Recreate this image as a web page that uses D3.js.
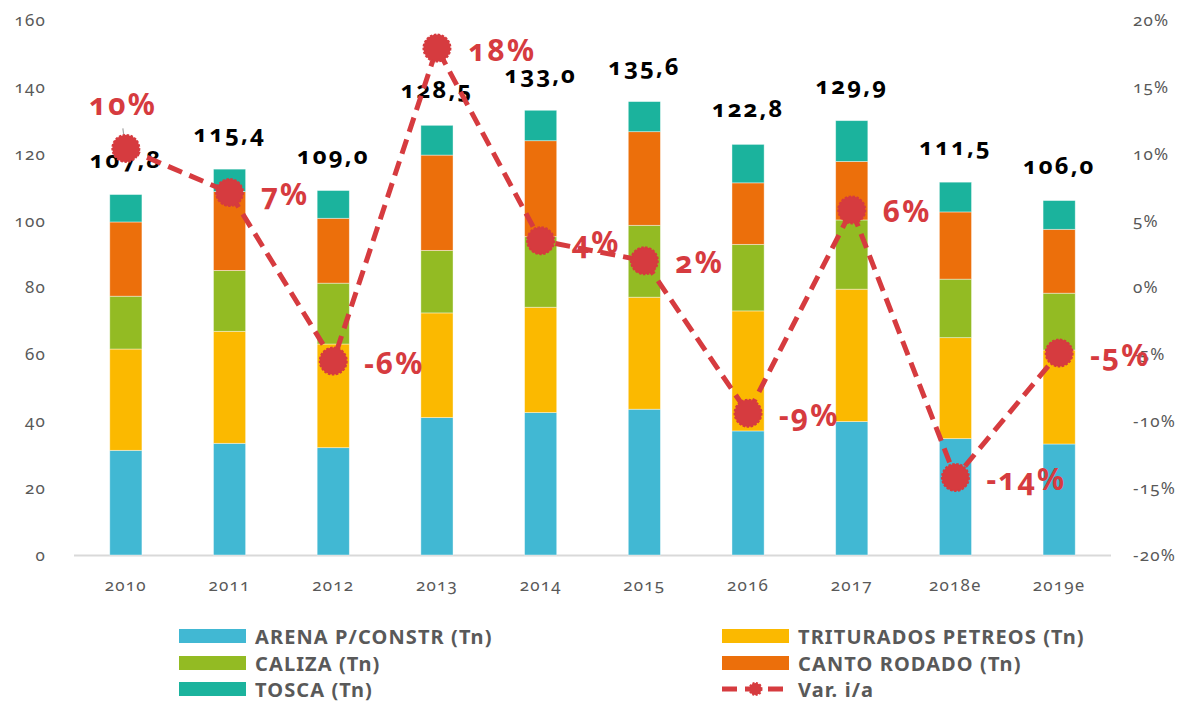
<!DOCTYPE html>
<html><head><meta charset="utf-8">
<script src="https://cdn.jsdelivr.net/npm/d3@7"></script>
<style>
html,body{margin:0;padding:0;background:#fff;}
svg{display:block;font-family:"Noto Sans",sans-serif;font-variant-numeric:oldstyle-nums;}
</style></head>
<body><svg id="c" width="1186" height="703"></svg>
<script>
const years = ["2010","2011","2012","2013","2014","2015","2016","2017","2018e","2019e"];
const arena  = [31.3,33.4,32.1,41.1,42.6,43.6,37.1,39.9,34.8,33.2];
const trit   = [30.3,33.5,31.0,31.3,31.5,33.5,35.9,39.6,30.2,28.1];
const caliza = [15.8,18.2,18.2,18.7,21.1,21.5,19.9,20.7,17.5,17.0];
const canto  = [22.2,23.6,19.4,28.5,28.7,28.0,18.4,17.5,20.1,19.1];
const tosca  = [8.2,6.7,8.3,8.9,9.1,9.0,11.5,12.2,8.9,8.6];
const totals = ["107,8","115,4","109,0","128,5","133,0","135,6","122,8","129,9","111,5","106,0"];
const varia  = [0.104,0.071,-0.055,0.179,0.035,0.020,-0.094,0.058,-0.142,-0.049];
const varLabels = ["10%","7%","-6%","18%","4%","2%","-9%","6%","-14%","-5%"];
const leftTicks = [0,20,40,60,80,100,120,140,160];
const rightTicks = [-0.2,-0.15,-0.1,-0.05,0,0.05,0.1,0.15,0.2];
const seriesNames = ["ARENA P/CONSTR (Tn)","TRITURADOS PETREOS (Tn)","CALIZA (Tn)","CANTO RODADO (Tn)","TOSCA (Tn)"];
const lineName = "Var. i/a";

const colors = ["#41B8D3","#FBB900","#93BB23","#EC6F0B","#1BB39D"];
const red = "#D63B3F";
const gray = "#595959";

const svg = d3.select("#c");
const L = 74, R = 1111, T = 20, B = 555;
const x = d3.scaleBand().domain(years).range([L,R]).paddingInner(0.69).paddingOuter(0.345);
const y = d3.scaleLinear().domain([0,160]).range([B,T]);
const y2 = d3.scaleLinear().domain([-0.2,0.2]).range([B,T]);

const rows = years.map((yr,i)=>({year:yr, s0:arena[i], s1:trit[i], s2:caliza[i], s3:canto[i], s4:tosca[i]}));
const stack = d3.stack().keys(["s0","s1","s2","s3","s4"])(rows);

// axis line
svg.append("line").attr("x1",L).attr("x2",R).attr("y1",B+0.5).attr("y2",B+0.5)
  .attr("stroke","#d9d9d9").attr("stroke-width",2);

// bars
stack.forEach((layer,k)=>{
  svg.append("g").selectAll("rect").data(layer).join("rect")
    .attr("x",d=>x(d.data.year))
    .attr("width",x.bandwidth())
    .attr("y",d=>y(d[1]))
    .attr("height",d=>y(d[0])-y(d[1]))
    .attr("fill",colors[k])
    .attr("stroke","rgba(255,255,255,0.5)").attr("stroke-width",0.8);
});

const tickStyle = sel => sel.attr("fill",gray).style("font-size","17px")
  .style("letter-spacing","1.2px").style("font-family","Noto Sans");

// left axis
const ay = d3.axisLeft(y).tickValues(leftTicks).tickSize(0).tickPadding(0).tickFormat(d3.format("d"));
const gL = svg.append("g").attr("transform","translate(46,0)").call(ay);
gL.select(".domain").remove();
gL.selectAll("text").call(tickStyle);

// right axis
const pct = d => d3.format(".0%")(d).replace("\u2212","-");
const ay2 = d3.axisRight(y2).tickValues(rightTicks).tickSize(0).tickPadding(0).tickFormat(pct);
const gR = svg.append("g").attr("transform","translate(1133,0)").call(ay2);
gR.select(".domain").remove();
gR.selectAll("text").call(tickStyle);

// x axis
const ax = d3.axisBottom(x).tickSize(0).tickPadding(0);
const gX = svg.append("g").attr("transform",`translate(0,${B+24})`).call(ax);
gX.select(".domain").remove();
gX.selectAll("text").call(tickStyle);

// total labels
svg.append("g").selectAll("text").data(rows).join("text")
  .attr("x",(d,i)=>x(d.year)+x.bandwidth()/2)
  .attr("y",(d,i)=>y(arena[i]+trit[i]+caliza[i]+canto[i]+tosca[i]) - 27)
  .attr("text-anchor","middle")
  .attr("fill","#000").style("font-weight","700").style("font-size","24px")
  .style("letter-spacing","2px")
  .text((d,i)=>totals[i]);

// line
const cx = i => x(years[i]) + x.bandwidth()/2;
const line = d3.line().x((d,i)=>cx(i)).y(d=>y2(d));
svg.append("path").datum(varia).attr("d",line)
  .attr("fill","none").attr("stroke",red).attr("stroke-width",5)
  .attr("stroke-dasharray","15,8");

// leader line for first label
svg.append("line").attr("x1",cx(0)-3).attr("y1",y2(varia[0])-20).attr("x2",cx(0)).attr("y2",y2(varia[0])+2)
  .attr("stroke","#a6a6a6").attr("stroke-width",1.2);

svg.append("g").selectAll("circle").data(varia).join("circle")
  .attr("cx",(d,i)=>cx(i)).attr("cy",d=>y2(d)).attr("r",13.5)
  .attr("fill",red).attr("stroke",red).attr("stroke-width",2).attr("stroke-dasharray","2.5,1.5");

// var labels
svg.append("g").selectAll("text").data(varia).join("text")
  .attr("x",(d,i)=> i===0 ? cx(i)-3 : cx(i)+31)
  .attr("y",(d,i)=> i===0 ? y2(d)-45 : y2(d)+1)
  .attr("dominant-baseline","central")
  .attr("text-anchor",(d,i)=> i===0 ? "middle" : "start")
  .attr("fill",red).style("font-weight","700").style("font-size","30px")
  .style("letter-spacing","2px")
  .text((d,i)=>varLabels[i]);

// legend
const legItems = [
  {name:seriesNames[0], c:colors[0], col:0,row:0},
  {name:seriesNames[1], c:colors[1], col:1,row:0},
  {name:seriesNames[2], c:colors[2], col:0,row:1},
  {name:seriesNames[3], c:colors[3], col:1,row:1},
  {name:seriesNames[4], c:colors[4], col:0,row:2},
  {name:lineName, c:red, col:1,row:2, line:true}
];
const colX = [179,722], rowY = [636,663,689];
const lg = svg.append("g");
legItems.forEach(it=>{
  const gx = colX[it.col], gy = rowY[it.row];
  if(it.line){
    lg.append("line").attr("x1",gx).attr("x2",gx+67).attr("y1",gy).attr("y2",gy)
      .attr("stroke",red).attr("stroke-width",5).attr("stroke-dasharray","15,8");
    lg.append("circle").attr("cx",gx+33.5).attr("cy",gy).attr("r",6)
      .attr("fill",red).attr("stroke",red).attr("stroke-width",2).attr("stroke-dasharray","2,1.5");
  } else {
    lg.append("rect").attr("x",gx).attr("y",gy-7).attr("width",67).attr("height",14).attr("fill",it.c);
  }
  lg.append("text").attr("x",gx+76).attr("y",gy).attr("dominant-baseline","central")
    .attr("fill",gray).style("font-weight","700").style("font-size","20px")
    .style("letter-spacing","1.1px")
    .style("font-variant-numeric","normal")
    .text(it.name);
});
</script></body></html>
